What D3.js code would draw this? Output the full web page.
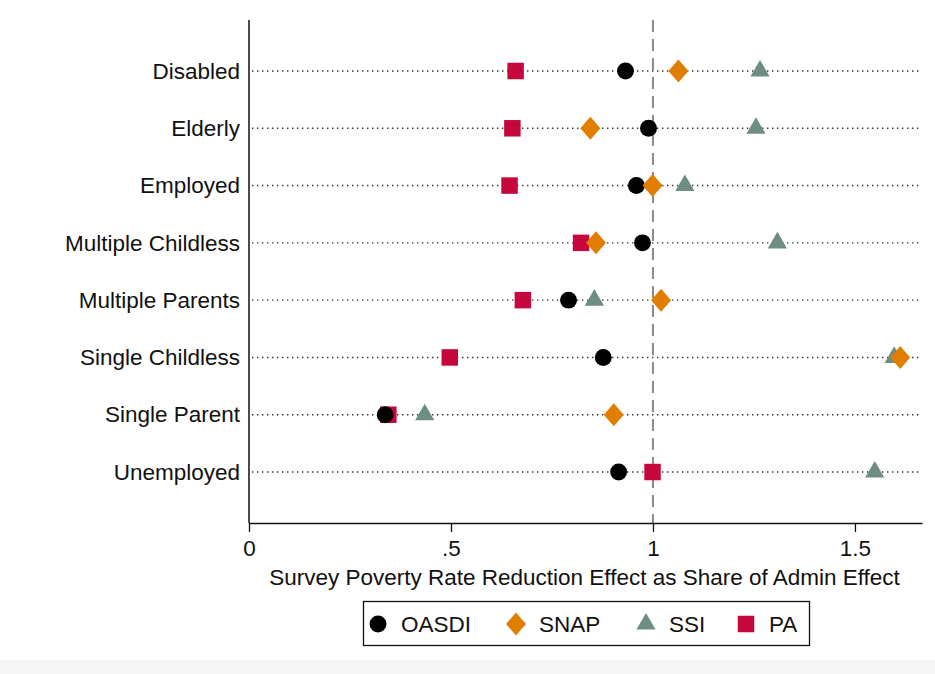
<!DOCTYPE html>
<html>
<head>
<meta charset="utf-8">
<script src="https://cdn.jsdelivr.net/npm/d3@7"></script>
<style>
  body { margin: 0; background: #fff; }
  text { font-family: 'Liberation Sans', Arial, Helvetica, sans-serif; fill: #111; }
</style>
</head>
<body>
<script>
const width = 935
const height = 674

// data
const categories = ['Disabled', 'Elderly', 'Employed', 'Multiple Childless',
  'Multiple Parents', 'Single Childless', 'Single Parent', 'Unemployed']
const seriesNames = ['OASDI', 'SNAP', 'SSI', 'PA']
const oasdi = [0.932, 0.989, 0.959, 0.974, 0.791, 0.877, 0.337, 0.915]
const snap = [1.063, 0.845, 0.999, 0.859, 1.020, 1.612, 0.903, null]
const ssi = [1.265, 1.255, 1.079, 1.308, 0.855, 1.597, 0.435, 1.549]
const pa = [0.660, 0.652, 0.645, 0.822, 0.678, 0.497, 0.345, 0.999]
const xTicks = [0, 0.5, 1, 1.5]
const xTickLabels = ['0', '.5', '1', '1.5']
const xTitle = 'Survey Poverty Rate Reduction Effect as Share of Admin Effect'

const colors = { OASDI: '#000000', SNAP: '#e17e00', SSI: '#6e8d84', PA: '#c6073b' }

const plot = { left: 249, right: 922, top: 20, bottom: 523 }
const fontSize = '22.5px'

const svg = d3.select('body')
  .append('svg')
  .attr('width', width)
  .attr('height', height)

svg.append('rect')
  .attr('x', 0).attr('y', 660)
  .attr('width', width).attr('height', height - 660)
  .attr('fill', '#f6f6f6')

const x = d3.scaleLinear().domain([0, 1.666]).range([plot.left, plot.right])
const y = d3.scalePoint().domain(categories).range([plot.top, plot.bottom]).padding(0.89)

// dotted guide lines per category
svg.append('g')
  .selectAll('line')
  .data(categories)
  .enter()
  .append('line')
  .attr('x1', plot.left + 3)
  .attr('x2', plot.right)
  .attr('y1', (d) => y(d))
  .attr('y2', (d) => y(d))
  .attr('stroke', '#333')
  .attr('stroke-width', 1.4)
  .attr('stroke-dasharray', '1.4,3.6')

// reference line at 1
svg.append('line')
  .attr('x1', x(1)).attr('x2', x(1))
  .attr('y1', plot.top).attr('y2', plot.bottom)
  .attr('stroke', '#8a8a8a')
  .attr('stroke-width', 2)
  .attr('stroke-dasharray', '12,7')

// y axis (category labels)
const yAxis = svg.append('g')
  .attr('transform', `translate(${plot.left}, 0)`)
  .call(d3.axisLeft(y).tickSize(0).tickPadding(9))
yAxis.select('.domain').attr('stroke', '#111').attr('stroke-width', 1.5)
  .attr('d', `M0,${plot.top}V${plot.bottom}`)
yAxis.selectAll('text').style('font-size', fontSize).attr('fill', '#111')

// x axis
const xAxis = svg.append('g')
  .attr('transform', `translate(0, ${plot.bottom})`)
  .call(d3.axisBottom(x).tickValues(xTicks)
    .tickFormat((d, i) => xTickLabels[i]).tickSize(9).tickSizeOuter(0).tickPadding(8))
xAxis.select('.domain').attr('stroke', '#111').attr('stroke-width', 1.5)
xAxis.selectAll('line').attr('stroke', '#111').attr('stroke-width', 1.3)
xAxis.selectAll('text').style('font-size', fontSize).attr('fill', '#111')

svg.append('text')
  .attr('x', (plot.left + plot.right) / 2 - 1)
  .attr('y', 585)
  .attr('text-anchor', 'middle')
  .style('font-size', fontSize)
  .text(xTitle)

// marker shapes
const shapes = {
  OASDI: d3.symbol().type(d3.symbolCircle).size(225)(),
  SNAP: 'M0,-11.5L10,0L0,11.5L-10,0Z',
  SSI: d3.symbol().type(d3.symbolTriangle).size(160)(),
  PA: d3.symbol().type(d3.symbolSquare).size(272)()
}

const seriesValues = { OASDI: oasdi, SNAP: snap, SSI: ssi, PA: pa }
const drawOrder = ['PA', 'SSI', 'OASDI', 'SNAP']

drawOrder.forEach((name) => {
  const pts = categories.map((c, i) => ({ cat: c, v: seriesValues[name][i] }))
    .filter((d) => d.v !== null)
  svg.append('g')
    .selectAll('path')
    .data(pts)
    .enter()
    .append('path')
    .attr('d', shapes[name])
    .attr('transform', (d) => `translate(${x(d.v)}, ${y(d.cat)})`)
    .attr('fill', colors[name])
})

// legend
const legend = svg.append('g')
legend.append('rect')
  .attr('x', 363.5).attr('y', 601.5)
  .attr('width', 446).attr('height', 44)
  .attr('fill', '#fff')
  .attr('stroke', '#111')
  .attr('stroke-width', 1.3)

const legendX = [378, 516, 646, 746]
seriesNames.forEach((name, i) => {
  legend.append('path')
    .attr('d', shapes[name])
    .attr('transform', `translate(${legendX[i]}, 624)`)
    .attr('fill', colors[name])
  legend.append('text')
    .attr('x', legendX[i] + 23)
    .attr('y', 624)
    .attr('dy', '0.36em')
    .style('font-size', fontSize)
    .text(name)
})
</script>
</body>
</html>
